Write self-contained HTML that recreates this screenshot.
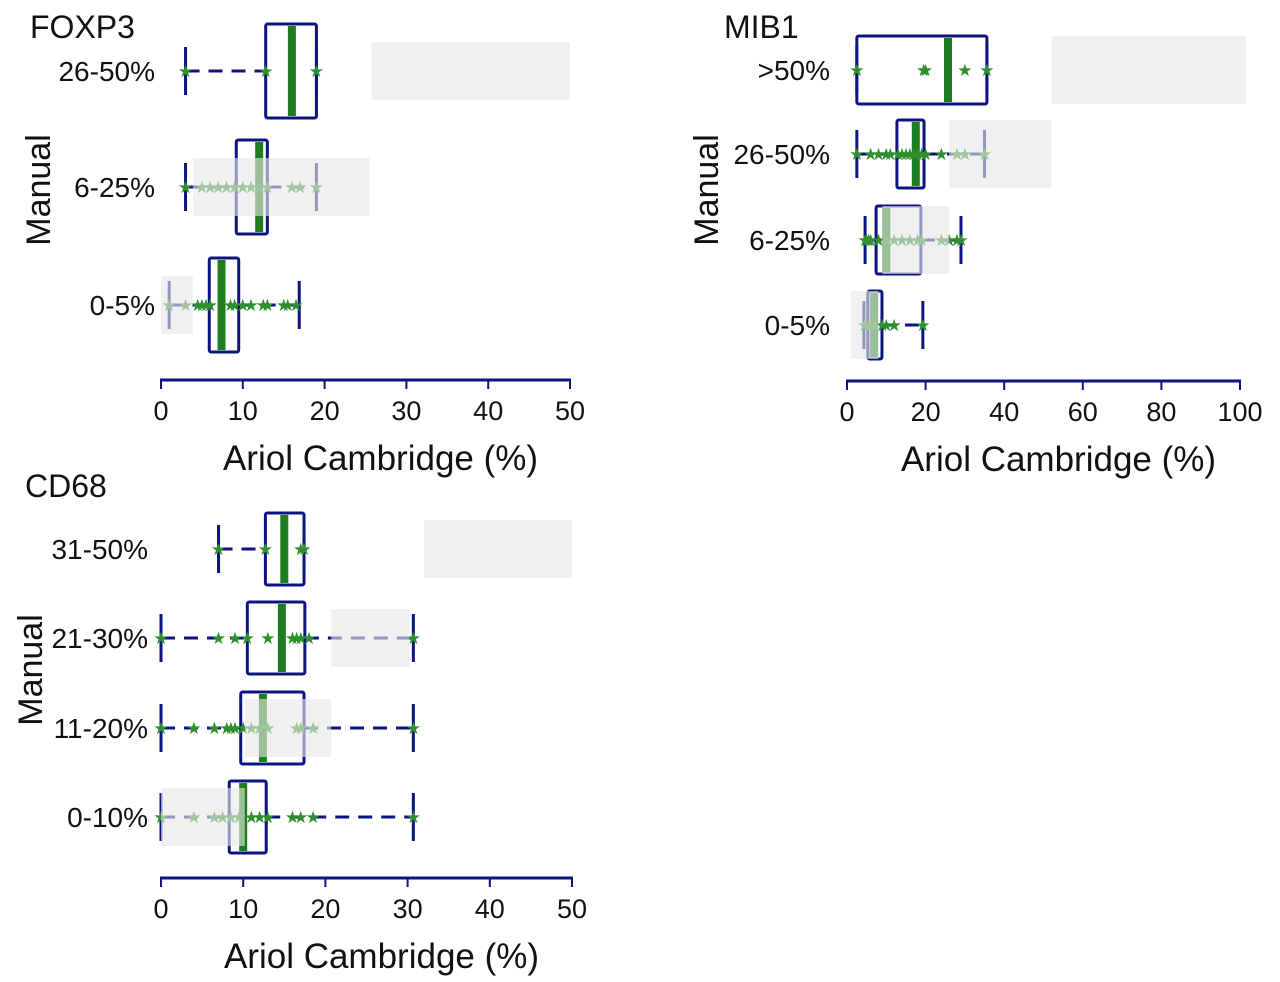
<!DOCTYPE html>
<html><head><meta charset="utf-8">
<style>
html,body{margin:0;padding:0;background:#fff;}
svg{display:block;font-family:"Liberation Sans Narrow","Liberation Sans",sans-serif;}
</style></head>
<body>
<svg id="chart" width="1280" height="982" viewBox="0 0 1280 982"></svg>
<script>
// ---------- FOXP3 data ----------
const foxCats = ["26-50%","6-25%","0-5%"];
const foxWhiskLo = [3,3,1];
const foxQ1 = [12.8,9.2,5.9];
const foxMed = [16,12,7.4];
const foxQ3 = [19,13,9.5];
const foxWhiskHi = [19,19,16.9];
const foxRefLo = [25.7,3.9,0];
const foxRefHi = [50,25.5,3.9];
const foxPoints = [[3,12.8,19],[3,5,6,7,8,9,10,11,12,13,16,17,19],[1,3,4.5,5,5.5,6,8.5,9,10,11,12.5,13,15,15.5,16.5]];
const foxTicks = [0,10,20,30,40,50];

// ---------- MIB1 data ----------
const mibCats = [">50%","26-50%","6-25%","0-5%"];
const mibWhiskLo = [2.5,2.5,4.6,4.3];
const mibQ1 = [2.5,12.7,7.4,5.3];
const mibMed = [25.7,17.5,10,6.9];
const mibQ3 = [35.6,19.6,18.8,8.9];
const mibWhiskHi = [35.6,35,29,19.3];
const mibRefLo = [52,26,9,1];
const mibRefHi = [101.5,52,26,8];
const mibPoints = [[2.5,19.5,20,30,35.6],[2.5,6,8,10,11,13,14,15,16,17,18,19,20,24,28,30,35],[4.6,5,5.5,6,8,10,12,14,16,18,19,24,26,28,29],[4.5,5.5,6,7,9,10,12,19.3]];
const mibTicks = [0,20,40,60,80,100];

// ---------- CD68 data ----------
const cdCats = ["31-50%","21-30%","11-20%","0-10%"];
const cdWhiskLo = [7,0,0,0];
const cdQ1 = [12.7,10.5,9.7,8.3];
const cdMed = [15,14.7,12.4,10];
const cdQ3 = [17.4,17.5,17.4,12.8];
const cdWhiskHi = [17.4,30.7,30.7,30.7];
const cdRefLo = [32,20.7,10.2,0];
const cdRefHi = [50,30.2,20.7,10.2];
const cdPoints = [[7,12.7,17,17.4],[0,7,9,10.5,13,16,16.5,17,18,30.7],[0,4,6.5,8,8.5,9,10,11,12,13,16.5,17,18.5,30.7],[0,4,6.5,7.5,8.5,9.5,11,12,13,16,17,18.5,30.7]];
const cdTicks = [0,10,20,30,40,50];

const NS="http://www.w3.org/2000/svg";
const svg=document.getElementById('chart');
const NAVY="#0d1480", GREEN="#1e7d1e", STAR="#2f8f2f";
function mk(tag,attrs,parent){const e=document.createElementNS(NS,tag);for(const k in attrs)e.setAttribute(k,attrs[k]);(parent||svg).appendChild(e);return e;}

function panel(cfg){
  const g=mk('g',{});
  
  
  const sx=v=>cfg.x0+(v-cfg.min)*(cfg.x1-cfg.x0)/(cfg.max-cfg.min);
  const t=mk('text',{x:cfg.titleX,y:cfg.titleY,'font-size':32,fill:'#111'},g);t.textContent=cfg.title;
  
  
  const yt=mk('text',{x:0,y:0,'font-size':34,fill:'#111','text-anchor':'middle',transform:`translate(${cfg.yTitleX},${cfg.yTitleY}) rotate(-90)`},g);yt.textContent='Manual';
  
  
  cfg.cats.forEach((c,i)=>{
    const y=cfg.ys[i], bh=cfg.bh;
    const cg=mk('g',{},g);
    
    
    const lbl=mk('text',{x:cfg.labelX,y:y+10,'font-size':28,fill:'#111','text-anchor':'end'},cg);lbl.textContent=c;
    mk('line',{x1:sx(cfg.wl[i]),x2:sx(cfg.q1[i]),y1:y,y2:y,stroke:NAVY,'stroke-width':3,'stroke-dasharray':'14 9'},cg);
    mk('line',{x1:sx(cfg.q3[i]),x2:sx(cfg.wh[i]),y1:y,y2:y,stroke:NAVY,'stroke-width':3,'stroke-dasharray':'14 9'},cg);
    mk('line',{x1:sx(cfg.wl[i]),x2:sx(cfg.wl[i]),y1:y-24,y2:y+24,stroke:NAVY,'stroke-width':3},cg);
    mk('line',{x1:sx(cfg.wh[i]),x2:sx(cfg.wh[i]),y1:y-24,y2:y+24,stroke:NAVY,'stroke-width':3},cg);
    mk('rect',{x:sx(cfg.q1[i]),y:y-bh/2,width:sx(cfg.q3[i])-sx(cfg.q1[i]),height:bh,fill:'none',stroke:NAVY,'stroke-width':3,rx:2},cg);
    mk('rect',{x:sx(cfg.med[i])-4,y:y-bh/2+2,width:8,height:bh-4,fill:GREEN},cg);
    cfg.pts[i].forEach(p=>{const s=mk('text',{x:sx(p),y:y+6,'font-size':17,fill:STAR,'text-anchor':'middle'},cg);s.textContent='★';});
    const r=mk('rect',{x:sx(cfg.rl[i]),y:y-cfg.rh/2,width:sx(cfg.rhi[i])-sx(cfg.rl[i]),height:cfg.rh,fill:'#e6e6e6','fill-opacity':0.62},cg);
    
    
  });
  const ax=mk('g',{},g);
  
  
  mk('line',{x1:sx(cfg.min)-1,x2:sx(cfg.max)+1,y1:cfg.axisY,y2:cfg.axisY,stroke:NAVY,'stroke-width':3},ax);
  cfg.ticks.forEach(v=>{
    mk('line',{x1:sx(v),x2:sx(v),y1:cfg.axisY,y2:cfg.axisY+9,stroke:NAVY,'stroke-width':2},ax);
    const tl=mk('text',{x:sx(v),y:cfg.axisY+40,'font-size':27,fill:'#111','text-anchor':'middle'},ax);tl.textContent=v;
  });
  const xt=mk('text',{x:(cfg.x0+cfg.x1)/2+15,y:cfg.axisY+90,'font-size':35,fill:'#111','text-anchor':'middle'},ax);xt.textContent='Ariol Cambridge (%)';
  
  
}

panel({name:'foxp3',title:'FOXP3',titleX:30,titleY:38,yTitleX:50,yTitleY:190,labelX:155,
  x0:161,x1:570,min:0,max:50,axisY:380,ys:[71,187,305],bh:94,rh:58,
  cats:foxCats,wl:foxWhiskLo,q1:foxQ1,med:foxMed,q3:foxQ3,wh:foxWhiskHi,rl:foxRefLo,rhi:foxRefHi,pts:foxPoints,ticks:foxTicks});
panel({name:'mib1',title:'MIB1',titleX:724,titleY:38,yTitleX:718,yTitleY:190,labelX:830,
  x0:847,x1:1240,min:0,max:100,axisY:381,ys:[70,154,240,325],bh:68,rh:68,
  cats:mibCats,wl:mibWhiskLo,q1:mibQ1,med:mibMed,q3:mibQ3,wh:mibWhiskHi,rl:mibRefLo,rhi:mibRefHi,pts:mibPoints,ticks:mibTicks});
panel({name:'cd68',title:'CD68',titleX:25,titleY:497,yTitleX:42,yTitleY:670,labelX:148,
  x0:161,x1:572,min:0,max:50,axisY:878,ys:[549,638,728,817],bh:72,rh:58,
  cats:cdCats,wl:cdWhiskLo,q1:cdQ1,med:cdMed,q3:cdQ3,wh:cdWhiskHi,rl:cdRefLo,rhi:cdRefHi,pts:cdPoints,ticks:cdTicks});
</script>
</body></html>
